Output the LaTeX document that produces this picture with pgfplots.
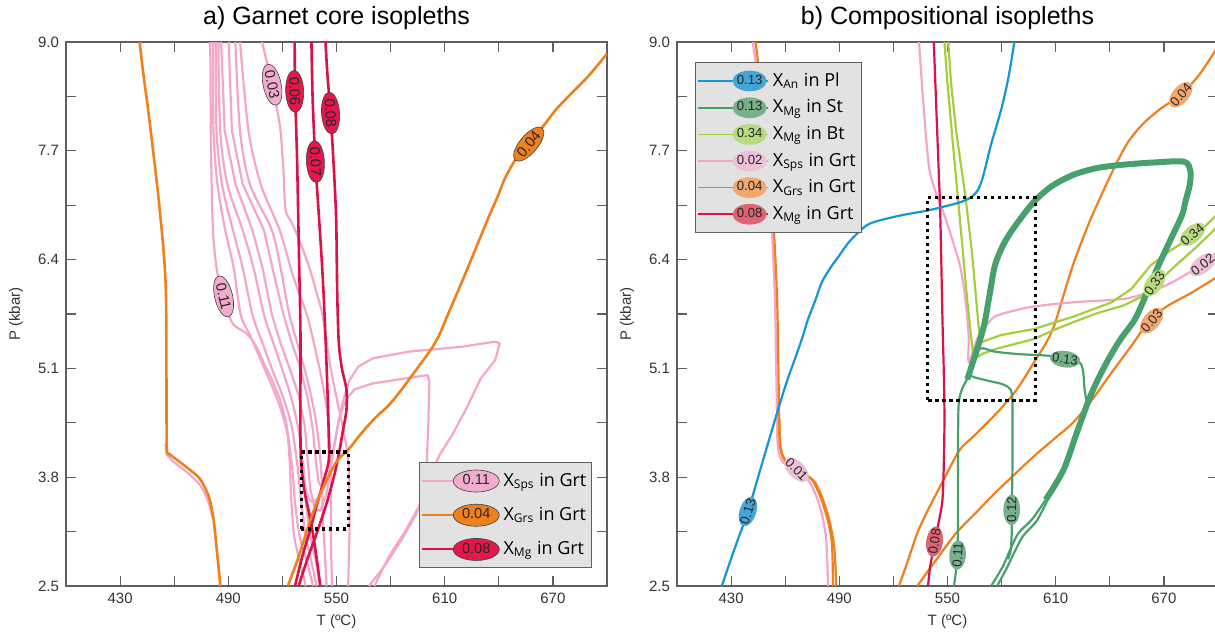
\documentclass[border=0pt]{standalone}
\usepackage{fontspec}
\setmainfont{Liberation Sans}
\newfontfamily\legfont{Open Sans}
\usepackage{pgfplots}
\pgfplotsset{compat=1.18}
\usetikzlibrary{shapes.geometric}
\definecolor{pinkc}{RGB}{243,166,201}
\definecolor{pinkf}{RGB}{241,172,206}
\definecolor{orangec}{RGB}{238,128,30}
\definecolor{redc}{RGB}{218,18,72}
\definecolor{redf}{RGB}{228,22,74}
\definecolor{bluec}{RGB}{22,150,210}
\definecolor{dgreen}{RGB}{72,160,108}
\definecolor{lgreen}{RGB}{164,206,62}
\definecolor{axgray}{RGB}{95,95,95}
\definecolor{leggray}{RGB}{226,226,226}
\definecolor{bluef}{RGB}{70,165,215}
\definecolor{dgreenf}{RGB}{120,176,140}
\definecolor{lgreenf}{RGB}{186,218,128}
\definecolor{pinkbf}{RGB}{236,192,216}
\definecolor{orangebf}{RGB}{240,168,110}
\definecolor{redbf}{RGB}{222,100,115}
\tikzset{
  laba/.style={ellipse, inner xsep=0.3pt, inner ysep=0.6pt, minimum width=21pt, minimum height=8pt, font=\normalfont\fontsize{7.3}{7}\selectfont, draw=black!75, line width=0.3pt, text=black!85},
  labb/.style={ellipse, inner xsep=-1pt, inner ysep=0.6pt, font=\normalfont\fontsize{6.6}{7}\selectfont, text=black!85},
}
\pgfplotsset{panel/.style={
  scale only axis, width=270.5pt, height=272pt,
  xmin=400, xmax=700, ymin=2.5, ymax=9.0,
  xtick={430,460,...,670}, xticklabels={430,,490,,550,,610,,670},
  ytick={2.5,3.15,3.8,4.45,5.1,5.75,6.4,7.05,7.7,8.35,9.0},
  yticklabels={2.5,,3.8,,5.1,,6.4,,7.7,,9.0},
  tick align=inside, major tick length=5pt,
  axis line style={axgray, line width=0.6pt},
  every tick/.style={axgray, line width=0.6pt},
  tick label style={font=\fontsize{7.5}{9}\selectfont, text=black!80},
  xlabel={T (ºC)}, ylabel={P (kbar)},
  label style={font=\fontsize{7.5}{9}\selectfont, text=black!80},
  xlabel style={at={(axis description cs:0.5,0)}, anchor=center, yshift=-18pt},
  ylabel style={at={(axis description cs:-0.0924,0.5)}, anchor=center},
  title style={font=\fontsize{12.5}{14}\selectfont, at={(axis description cs:0.5,1)}, anchor=center, yshift=6pt},
  /pgf/number format/assume math mode=true,
}}
\begin{document}
\begin{tikzpicture}
\useasboundingbox (0,0) rectangle (607.5pt,316.5pt);
% ================= PANEL A =================
\begin{axis}[panel, at={(33pt,23.5pt)}, anchor=south west,
  title={a) Garnet core isopleths},
  legend style={at={(0.972,0.033)}, anchor=south east, fill=leggray, draw=axgray, line width=0.5pt,
    font=\legfont\fontsize{9}{11}\selectfont, row sep=5pt, inner xsep=0.5pt, inner ysep=3pt, cells={anchor=west}},
  legend cell align=left]
\addlegendimage{legend image code/.code={\draw[pinkc, line width=1pt] (0pt,0pt) -- (31pt,0pt);
  \node[laba, fill=pinkf, minimum width=23pt, minimum height=8.5pt] at (15.5pt,0pt) {0.11};}}
\addlegendentry{X\textsubscript{Sps} in Grt}
\addlegendimage{legend image code/.code={\draw[orangec, line width=1pt] (0pt,0pt) -- (31pt,0pt);
  \node[laba, fill=orangec, minimum width=23pt, minimum height=8.5pt] at (15.5pt,0pt) {0.04};}}
\addlegendentry{X\textsubscript{Grs} in Grt}
\addlegendimage{legend image code/.code={\draw[redc, line width=1pt] (0pt,0pt) -- (31pt,0pt);
  \node[laba, fill=redf, minimum width=23pt, minimum height=8.5pt] at (15.5pt,0pt) {0.08};}}
\addlegendentry{X\textsubscript{Mg} in Grt}
% pink Sps isopleths
\pgfplotsset{every axis plot/.append style={forget plot, line join=round}}
\addplot[pinkc, line width=1.1pt, smooth] coordinates {(480,9.0)(480.2,8.3)(480.5,7.6)(481.5,6.75)(483.5,6.3)(486,6.05)(489,5.8)(493,5.62)(500,5.52)(505,5.38)(510,5.15)(514.5,4.95)(519,4.7)(522.5,4.4)(524,4.0)(525,3.5)(526.5,3.1)(529.5,2.8)(533,2.5)};
\addplot[pinkc, line width=1.1pt, smooth] coordinates {(481.5,9.0)(481.8,7.94)(484,7.3)(488.3,6.75)(493,6.3)(496.9,5.74)(502,5.5)(508,5.2)(514,4.9)(519,4.62)(523,4.3)(525.5,3.9)(527,3.5)(529.5,3.1)(533.5,2.8)(537,2.5)};
\addplot[pinkc, line width=1.1pt, smooth] coordinates {(483,9.0)(483.5,7.94)(486.5,7.3)(492.6,6.75)(498,6.3)(503.4,5.74)(509,5.4)(515,5.05)(520.5,4.75)(525,4.42)(528,4.0)(530,3.6)(532.5,3.15)(536,2.8)(539,2.5)};
\addplot[pinkc, line width=1.1pt, smooth] coordinates {(484.5,9.0)(485.5,7.94)(489.5,7.3)(498,6.75)(504,6.3)(509.8,5.74)(515,5.4)(520.5,5.05)(525.5,4.7)(529.5,4.3)(531.5,3.9)(533,3.5)(535.5,3.1)(538.5,2.8)(541,2.5)};
\addplot[pinkc, line width=1.1pt] coordinates {(486,9.0)(488,7.94)(494,7.3)(503.4,6.75)(509,6.3)(514.2,5.74)(519,5.4)(524,5.1)(529,4.78)(532.5,4.4)(534,4.0)(535.5,3.65)(538,3.42)(541,3.4)(544.5,3.6)(547.5,4.0)(550.5,4.4)(553.5,4.7)(557,4.95)(562,5.12)(570,5.22)(590,5.3)(620,5.36)(638,5.42)(640.5,5.4)(638,5.2)(630,4.98)(622,4.62)(614,4.3)(607,4.06)(600,3.7)(596,3.46)(588,3.15)(579,2.85)(571,2.5)};
\addplot[pinkc, line width=1.1pt] coordinates {(490.2,9.0)(492,7.94)(498,7.3)(509.8,6.75)(514.5,6.3)(520.6,5.74)(525,5.42)(530,5.1)(534,4.75)(537,4.35)(538.5,4.0)(540,3.75)(542.5,3.65)(545.5,3.8)(548.5,4.15)(551.5,4.5)(555,4.72)(560,4.85)(570,4.92)(585,4.97)(600.5,5.02)(601.5,4.95)(601,4.5)(600,3.94)(598.5,3.6)(594,3.35)(586,3.05)(577,2.75)(568,2.5)};
\addplot[pinkc, line width=1.1pt, smooth] coordinates {(493.9,9.0)(496.5,7.94)(502,7.3)(514.2,6.75)(519,6.3)(523.9,5.74)(529,5.35)(534,4.95)(538,4.55)(540.5,4.15)(542,3.7)(542.5,3.3)(543.5,2.9)(544.5,2.5)};
\addplot[pinkc, line width=1.1pt, smooth] coordinates {(496.5,9.0)(501.2,7.94)(508,7.3)(518.5,6.75)(526,6.2)(533.6,5.74)(538,5.35)(542,4.95)(545,4.55)(546.5,4.1)(547,3.6)(547,3.0)(547.5,2.5)};
\addplot[pinkc, line width=1.1pt, smooth] coordinates {(508.7,9.0)(511.5,8.75)(514.3,8.49)(517,8.2)(518.9,7.95)(520.5,7.5)(521.7,7.0)(525,6.85)(530,6.6)(535,6.3)(539,6.0)(542.2,5.74)(546.5,5.14)(550.5,4.7)(553.5,4.4)(556,4.1)(557,3.8)(557.2,3.2)(556.8,2.8)(556.5,2.5)};
\addplot[pinkc, line width=1.1pt, smooth] coordinates {(531.5,4.0)(532.5,3.72)(534.5,3.55)(537,3.5)(539.5,3.55)};
\addplot[pinkc, line width=1.1pt, smooth] coordinates {(455.2,4.2)(456,4.07)(461,3.96)(467,3.86)(473,3.74)(476,3.65)(479,3.5)(481.5,3.3)};
% red Mg isopleths
\addplot[redc, line width=1.3pt, smooth] coordinates {(526.8,9.0)(527,8.41)(527.6,8.0)(528.2,7.54)(528.8,6.9)(529.3,6.34)(530,5.56)(530,4.8)(530,4.3)(530.3,4.0)(531.9,3.68)(533.5,3.5)(535.2,3.33)(537.5,3.05)(539.5,2.75)(541,2.5)};
\addplot[redc, line width=1.3pt, smooth] coordinates {(536.1,9.0)(536.8,8.3)(538.3,7.57)(540,7.0)(541.8,6.4)(543,5.92)(544.2,5.3)(545.2,4.7)(545.7,4.3)(545.7,4.0)(542.8,3.75)(539.5,3.5)(535.5,3.18)(531,2.85)(527,2.5)};
\addplot[redc, line width=1.3pt, smooth] coordinates {(543.9,9.0)(545,8.6)(546.7,8.15)(548.5,7.5)(549.8,6.9)(550.2,6.3)(550.5,5.9)(551.3,5.4)(553,5.1)(555.5,4.85)(555.5,4.6)(553.5,4.35)(551.5,4.1)(548.5,3.8)(544,3.45)(538.5,3.1)(533.5,2.8)(529,2.5)};
% orange Grs isopleths
\addplot[orangec, line width=1.3pt, smooth] coordinates {(440.8,9.0)(443,8.6)(445.5,8.2)(448.3,7.7)(451,7.2)(453.3,6.7)(454.8,6.3)(455.5,5.9)(455.7,5.0)(455.9,4.16)(457.2,4.08)(462,4.0)(468,3.9)(473.5,3.8)(476.5,3.7)(479.6,3.54)(481.8,3.3)(483.3,3.0)(484.7,2.7)(485.6,2.5)};
\addplot[orangec, line width=1.3pt, smooth] coordinates {(523,2.5)(529,2.85)(535.7,3.3)(542,3.65)(548.7,3.94)(552.5,4.05)(556.2,4.12)(561,4.25)(566,4.38)(572,4.52)(579,4.66)(585.5,4.83)(592,5.02)(597.5,5.18)(602.8,5.34)(607,5.5)(611.3,5.72)(616.5,5.98)(622,6.26)(628.5,6.6)(635,6.94)(639.5,7.16)(643.6,7.38)(650,7.62)(656.6,7.78)(664.8,8.0)(672,8.2)(680,8.38)(690,8.6)(700,8.86)};
\draw[black, line width=1.6pt, dash pattern=on 1.6pt off 1.9pt] (axis cs:530.5,3.18) rectangle (axis cs:556.5,4.1);
\node[laba, fill=pinkf, rotate=-78] at (axis cs:514.3,8.49) {0.03};
\node[laba, fill=redf, rotate=-88] at (axis cs:526.8,8.41) {0.06};
\node[laba, fill=redf, rotate=-87] at (axis cs:538.3,7.57) {0.07};
\node[laba, fill=redf, rotate=-86] at (axis cs:546.7,8.15) {0.08};
\node[laba, fill=orangec, rotate=50] at (axis cs:656.6,7.78) {0.04};
\node[laba, fill=pinkf, rotate=-77] at (axis cs:487.4,5.96) {0.11};
\end{axis}
% ================= PANEL B =================
\begin{axis}[panel, at={(338.5pt,23.5pt)}, anchor=south west,
  title={b) Compositional isopleths},
  legend style={at={(0.033,0.963)}, anchor=north west, fill=leggray, draw=axgray, line width=0.5pt,
    font=\legfont\fontsize{9}{11}\selectfont, row sep=1.2pt, inner xsep=1pt, inner ysep=3pt, cells={anchor=west}},
  legend cell align=left]
\addlegendimage{legend image code/.code={\draw[bluec, line width=0.8pt] (0pt,0pt) -- (35pt,0pt);
  \node[labb, fill=bluef, minimum width=17pt, minimum height=6.5pt] at (17pt,0pt) {0.13};}}
\addlegendentry{X\textsubscript{An} in Pl}
\addlegendimage{legend image code/.code={\draw[dgreen, line width=0.8pt] (0pt,0pt) -- (35pt,0pt);
  \node[labb, fill=dgreenf, minimum width=17pt, minimum height=6.5pt] at (17pt,0pt) {0.13};}}
\addlegendentry{X\textsubscript{Mg} in St}
\addlegendimage{legend image code/.code={\draw[lgreen, line width=0.8pt] (0pt,0pt) -- (35pt,0pt);
  \node[labb, fill=lgreenf, minimum width=17pt, minimum height=6.5pt] at (17pt,0pt) {0.34};}}
\addlegendentry{X\textsubscript{Mg} in Bt}
\addlegendimage{legend image code/.code={\draw[pinkc, line width=0.8pt] (0pt,0pt) -- (35pt,0pt);
  \node[labb, fill=pinkbf, minimum width=17pt, minimum height=6.5pt] at (17pt,0pt) {0.02};}}
\addlegendentry{X\textsubscript{Sps} in Grt}
\addlegendimage{legend image code/.code={\draw[orangec, line width=0.8pt] (0pt,0pt) -- (35pt,0pt);
  \node[labb, fill=orangebf, minimum width=17pt, minimum height=6.5pt] at (17pt,0pt) {0.04};}}
\addlegendentry{X\textsubscript{Grs} in Grt}
\addlegendimage{legend image code/.code={\draw[redc, line width=0.8pt] (0pt,0pt) -- (35pt,0pt);
  \node[labb, fill=redbf, minimum width=17pt, minimum height=6.5pt] at (17pt,0pt) {0.08};}}
\addlegendentry{X\textsubscript{Mg} in Grt}
\pgfplotsset{every axis plot/.append style={forget plot, line join=round}}
% pink and orange left
\addplot[pinkc, line width=1.1pt, smooth] coordinates {(442,9.0)(446,8.4)(449.8,7.73)(452.2,6.93)(454.3,5.93)(455.3,4.73)(455.8,4.2)(458,4.0)(464,3.9)(472,3.79)(478.5,3.5)(482.5,3.1)(483.8,2.5)};
\addplot[orangec, line width=1.1pt, smooth] coordinates {(443.6,9.0)(447,8.4)(451.1,7.73)(453.3,6.93)(455.5,5.93)(456.5,4.73)(457,4.2)(459.8,4.0)(466.3,3.89)(474.9,3.77)(481.4,3.45)(485.7,3.05)(486.5,2.5)};
\addplot[orangec, line width=1.1pt, smooth] coordinates {(456.8,4.5)(457.5,4.15)(461,3.97)(468,3.86)(476.5,3.74)(483,3.4)(487,3.0)(488.3,2.5)};
% orange middle
\addplot[orangec, line width=1.1pt, smooth] coordinates {(523.1,2.5)(528,2.8)(533.2,3.13)(538.5,3.38)(544,3.61)(550,3.86)(556.9,4.13)(564,4.28)(572,4.45)(580,4.63)(587.1,4.81)(592.5,4.98)(597.9,5.17)(604,5.38)(609,5.6)(614,5.95)(619.5,6.33)(625,6.65)(630.3,6.93)(637,7.25)(643.2,7.53)(650,7.8)(658.3,8.02)(668,8.2)(679.4,8.37)(690,8.62)(700,8.95)};
\addplot[orangec, line width=1.1pt, smooth] coordinates {(533.2,2.5)(544,2.82)(554.7,3.13)(565.5,3.37)(576.3,3.61)(587,3.83)(597.9,4.05)(608.7,4.25)(619.5,4.45)(630,4.72)(641,5.05)(652,5.37)(662.6,5.69)(672.3,5.85)(685,6.0)(700,6.2)};
% pink Sps 0.02
\addplot[pinkc, line width=1.1pt, smooth] coordinates {(534.2,9.0)(536.5,8.3)(539.6,7.53)(543.5,7.2)(548.3,6.93)(552.5,6.65)(556.9,6.33)(559.5,6.0)(561,5.69)(561.8,5.45)(561.5,5.25)(562,5.17)(564,5.3)(567,5.48)(571,5.6)(576.3,5.72)(587,5.79)(597.9,5.84)(620,5.89)(647.5,5.93)(660,6.0)(672,6.1)(682,6.22)(690.6,6.33)(700,6.5)};
% light green Bt
\addplot[lgreen, line width=1.1pt] coordinates {(548.3,9.0)(550,8.5)(552.5,7.9)(555.8,7.13)(558.5,6.5)(561,5.9)(563,5.5)(564.5,5.22)(566,5.23)(570,5.28)(576.3,5.33)(587,5.39)(597.9,5.45)(608,5.55)(619.5,5.65)(633,5.76)(647.5,5.85)(657,5.95)(664.8,6.09)(675,6.3)(688,6.55)(700,6.8)};
\addplot[lgreen, line width=1.1pt] coordinates {(550.4,9.0)(552,8.5)(555,7.9)(560.1,7.13)(563.5,6.5)(566,5.9)(567.5,5.55)(568.8,5.41)(572,5.44)(580,5.5)(597.9,5.57)(620,5.72)(641,5.89)(652,6.05)(662.6,6.33)(673,6.5)(685.3,6.67)(693,6.8)(700,6.95)};
% dark green St
\addplot[dgreen, line width=3pt, smooth] coordinates {(561,4.97)(563.4,5.13)(566,5.3)(567.6,5.41)(569.5,5.55)(571,5.69)(573.5,6.0)(576.3,6.33)(581,6.58)(587.1,6.79)(597.9,7.09)(608,7.28)(619.5,7.41)(632,7.49)(645.4,7.53)(664,7.56)(681,7.57)(684.6,7.47)(684.4,7.3)(682,7.1)(680,6.93)(673.5,6.63)(667,6.33)(660.5,6.0)(654,5.69)(646,5.45)(639,5.2)(633,4.95)(628.5,4.73)(622,4.35)(615.2,3.93)(610,3.72)(604.4,3.53)};
\addplot[dgreen, line width=1.1pt, smooth] coordinates {(604.4,3.53)(597,3.3)(589.3,3.13)(584.5,2.92)(580.6,2.73)(574.2,2.5)};
\addplot[dgreen, line width=1.1pt, smooth] coordinates {(606,3.55)(599.5,3.28)(592,3.1)(587,2.9)(583,2.72)(577.5,2.5)};
\addplot[dgreen, line width=1.1pt, smooth] coordinates {(553.6,2.5)(554.8,2.7)(555.5,2.9)(555.8,3.2)(555.8,3.8)(555.9,4.4)(556.3,4.7)(558,4.85)(561,4.98)(563,5.1)};
\addplot[dgreen, line width=1.1pt, smooth] coordinates {(562,5.02)(565.5,4.99)(573,4.95)(580.6,4.91)(584.9,4.85)(586,4.7)(586,4.3)(586,3.93)(585.8,3.6)(585.6,3.41)(585.6,3.13)(585,2.92)(583.5,2.82)};
\addplot[dgreen, line width=1.1pt, smooth] coordinates {(566.5,5.33)(570,5.34)(576.3,5.3)(590,5.27)(606.5,5.25)(615.2,5.2)(620,5.19)(623.8,5.16)(625.3,5.05)(626,4.85)(627.5,4.67)};
% red Mg 0.08
\addplot[redc, line width=1.1pt, smooth] coordinates {(542.4,9.0)(543.8,8.2)(545,7.53)(546,6.93)(547.2,5.69)(548,5.0)(548.3,4.5)(548,4.0)(547.2,3.53)(545,3.25)(542.8,3.0)(540.5,2.75)(539.2,2.5)};
% blue An
\addplot[bluec, line width=1.1pt, smooth] coordinates {(424.8,2.5)(432,2.95)(439.3,3.39)(447,3.95)(455.5,4.57)(461,4.95)(466,5.25)(470,5.5)(472.7,5.69)(477,5.93)(480.3,6.13)(485,6.3)(490,6.45)(495,6.6)(500.8,6.73)(506,6.82)(512.7,6.87)(524.5,6.93)(539.6,6.99)(554.7,7.07)(560,7.11)(563.4,7.15)(566.5,7.22)(568.8,7.33)(571,7.5)(574.2,7.78)(577.5,8.02)(580.6,8.26)(584,8.6)(587.1,9.0)};
\draw[black, line width=1.6pt, dash pattern=on 1.6pt off 1.9pt] (axis cs:539,4.72) rectangle (axis cs:598.6,7.14);
\node[labb, fill=bluef, rotate=72] at (axis cs:439.3,3.39) {0.13};
\node[labb, fill=pinkbf, rotate=-45] at (axis cs:466.3,3.89) {0.01};
\node[labb, fill=redbf, rotate=82] at (axis cs:542.8,3.03) {0.08};
\node[labb, fill=dgreenf, rotate=86] at (axis cs:555.6,2.87) {0.11};
\node[labb, fill=dgreenf, rotate=89] at (axis cs:585.6,3.41) {0.12};
\node[labb, fill=dgreenf, rotate=-8] at (axis cs:615.2,5.21) {0.13};
\node[labb, fill=orangebf, rotate=50] at (axis cs:679.4,8.37) {0.04};
\node[labb, fill=lgreenf, rotate=40] at (axis cs:685.8,6.7) {0.34};
\node[labb, fill=pinkbf, rotate=38] at (axis cs:691.5,6.34) {0.02};
\node[labb, fill=lgreenf, rotate=55] at (axis cs:664.8,6.12) {0.33};
\node[labb, fill=orangebf, rotate=50] at (axis cs:663.2,5.67) {0.03};
\end{axis}
\end{tikzpicture}
\end{document}
